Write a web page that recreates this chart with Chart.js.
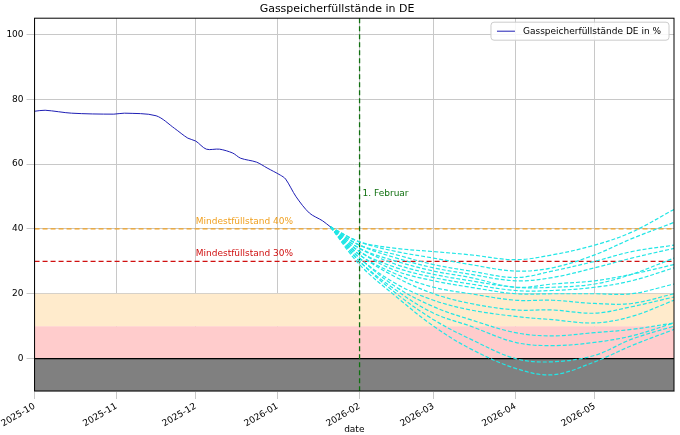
<!DOCTYPE html>
<html lang="de">
<head>
<meta charset="UTF-8">
<title>Gasspeicherfüllstände in DE</title>
<script src="https://cdn.jsdelivr.net/npm/chart.js"></script>
<style>
  body { margin: 0; background: #fff; }
  #wrap { width: 680px; height: 435px; }
</style>
</head>
<body>
<div id="wrap"><canvas id="chart"></canvas></div>
<script>
// x values are days since 2025-10-01
const monthDays = [0, 31, 61, 92, 123, 151, 182, 212];
const monthLabels = ['2025-10', '2025-11', '2025-12', '2026-01', '2026-02', '2026-03', '2026-04', '2026-05'];
const yTicks = [0, 20, 40, 60, 80, 100];

const histDays = [0, 4, 14, 30, 34, 46, 53, 58, 61, 65, 70, 75, 78, 84, 88, 93, 95, 99, 104, 109, 112];
const histValues = [76.3, 76.6, 75.7, 75.4, 75.7, 74.9, 71, 68, 67.1, 64.6, 64.6, 63.4, 61.8, 60.6, 58.8, 56.6, 55.4, 49.9, 44.9, 42.5, 40.6];

const scenDays = [112, 123, 137, 151, 165, 182, 196, 212, 226, 242];
const scenarios = [
  [40.6, 36, 34, 33, 32, 30.5, 32, 35, 39, 46],
  [40.6, 36, 33, 31, 29, 27, 28, 32, 37, 42],
  [40.6, 35, 32, 29, 27, 25, 27, 30, 33, 35],
  [40.6, 35, 31, 28, 26, 24, 25, 28, 31, 34],
  [40.6, 34, 30, 27, 25, 22, 23, 24, 26, 29],
  [40.6, 34, 29, 26, 24, 22, 22, 23, 26, 31],
  [40.6, 33, 28, 25, 23, 21, 21, 22, 24, 28],
  [40.6, 33, 27, 24, 22, 20, 20, 20, 20, 23],
  [40.6, 32, 26, 22, 20, 18, 18, 17, 17, 20],
  [40.6, 32, 25, 20, 17, 15, 15, 14, 16, 19],
  [40.6, 31, 23, 18, 15, 13, 12, 11, 13, 18],
  [40.6, 31, 22, 16, 12, 8, 7, 8, 9, 11],
  [40.6, 30, 21, 14, 10, 5, 4, 5, 7, 11],
  [40.6, 30, 20, 12, 6, 0, -1, 1, 6, 10],
  [40.6, 29, 19, 10, 3, -3, -5, -1, 4, 9]
];

const toXY = (xs, ys) => xs.map((x, i) => ({ x: x, y: ys[i] }));

const datasets = [{
  label: 'Gasspeicherfüllstände DE in %',
  data: toXY(histDays, histValues),
  borderColor: '#1f1fb4',
  borderWidth: 1,
  pointRadius: 0,
  tension: 0.3
}];
scenarios.forEach((s, i) => datasets.push({
  label: 'scenario' + i,
  data: toXY(scenDays, s),
  borderColor: '#22e6e6',
  borderWidth: 1.2,
  borderDash: [4, 2],
  pointRadius: 0,
  tension: 0.35
}));

const FONT = '"DejaVu Sans"';

// bands, reference lines, labels and in-plot legend
const decor = {
  id: 'decor',
  beforeDatasetsDraw(chart) {
    const { ctx, chartArea: a, scales: { x, y } } = chart;
    ctx.save();
    const band = (lo, hi, c) => {
      ctx.fillStyle = c;
      ctx.fillRect(a.left, y.getPixelForValue(hi), a.right - a.left, y.getPixelForValue(lo) - y.getPixelForValue(hi));
    };
    band(-10, 0, '#808080');
    band(0, 10, '#ffcccc');
    band(10, 20, '#ffebcc');
    const hline = (v, c, dash, w) => {
      ctx.strokeStyle = c; ctx.lineWidth = w; ctx.setLineDash(dash);
      ctx.beginPath(); ctx.moveTo(a.left, y.getPixelForValue(v)); ctx.lineTo(a.right, y.getPixelForValue(v)); ctx.stroke();
    };
    hline(0, '#000', [], 1.2);
    hline(40, '#f0a020', [5, 3], 1.3);
    hline(30, '#d01010', [5, 3], 1.3);
    const gx = x.getPixelForValue(123);
    ctx.strokeStyle = '#107010'; ctx.lineWidth = 1.3; ctx.setLineDash([5, 3]);
    ctx.beginPath(); ctx.moveTo(gx, a.top); ctx.lineTo(gx, a.bottom); ctx.stroke();
    ctx.setLineDash([]);
    ctx.font = '9px ' + FONT;
    ctx.textBaseline = 'alphabetic';
    ctx.fillStyle = '#f0a020';
    ctx.fillText('Mindestfüllstand 40%', x.getPixelForValue(61), y.getPixelForValue(41.5));
    ctx.fillStyle = '#d01010';
    ctx.fillText('Mindestfüllstand 30%', x.getPixelForValue(61), y.getPixelForValue(31.5));
    ctx.fillStyle = '#107010';
    ctx.fillText('1. Februar', gx + 3, y.getPixelForValue(50));
    ctx.restore();
  },
  afterDraw(chart) {
    const { ctx, chartArea: a } = chart;
    ctx.save();
    ctx.strokeStyle = '#000'; ctx.lineWidth = 1;
    ctx.strokeRect(a.left, a.top, a.right - a.left, a.bottom - a.top);
    // legend box
    const label = chart.data.datasets[0].label;
    ctx.font = '9px ' + FONT;
    const w = ctx.measureText(label).width + 40, h = 18;
    const lx = a.right - w - 5, ly = a.top + 4;
    ctx.fillStyle = 'rgba(255,255,255,0.85)';
    ctx.strokeStyle = '#cccccc';
    ctx.beginPath(); ctx.roundRect(lx, ly, w, h, 3); ctx.fill(); ctx.stroke();
    ctx.strokeStyle = chart.data.datasets[0].borderColor; ctx.lineWidth = 1;
    ctx.beginPath(); ctx.moveTo(lx + 6, ly + h / 2); ctx.lineTo(lx + 24, ly + h / 2); ctx.stroke();
    ctx.fillStyle = '#000'; ctx.textBaseline = 'middle';
    ctx.fillText(label, lx + 32, ly + h / 2 + 0.5);
    ctx.restore();
  }
};

new Chart(document.getElementById('chart'), {
  type: 'line',
  data: { datasets: datasets },
  plugins: [decor],
  options: {
    responsive: true,
    maintainAspectRatio: false,
    animation: false,
    layout: { padding: { left: 0, right: 6, top: 0, bottom: 0 } },
    plugins: {
      title: { display: true, text: 'Gasspeicherfüllstände in DE', color: '#000', font: { family: 'DejaVu Sans', size: 11, weight: 'normal' }, padding: { top: 3, bottom: 2 } },
      legend: { display: false },
      tooltip: { enabled: false }
    },
    scales: {
      x: {
        type: 'linear', min: 0, max: 242,
        afterBuildTicks: s => { s.ticks = monthDays.map(v => ({ value: v })); },
        afterFit: s => { s.height = 44; },
        ticks: {
          callback: v => monthLabels[monthDays.indexOf(v)],
          maxRotation: 30, minRotation: 30, autoSkip: false, padding: 2,
          color: '#000', font: { family: 'DejaVu Sans', size: 9 }
        },
        grid: { color: '#c8c8c8' },
        title: { display: true, text: 'date', color: '#000', font: { family: 'DejaVu Sans', size: 9 }, padding: 0 }
      },
      y: {
        min: -10, max: 105,
        afterBuildTicks: s => { s.ticks = yTicks.map(v => ({ value: v })); },
        ticks: { color: '#000', font: { family: 'DejaVu Sans', size: 9 } },
        grid: { color: '#c8c8c8' }
      }
    }
  }
});
</script>
</body>
</html>
